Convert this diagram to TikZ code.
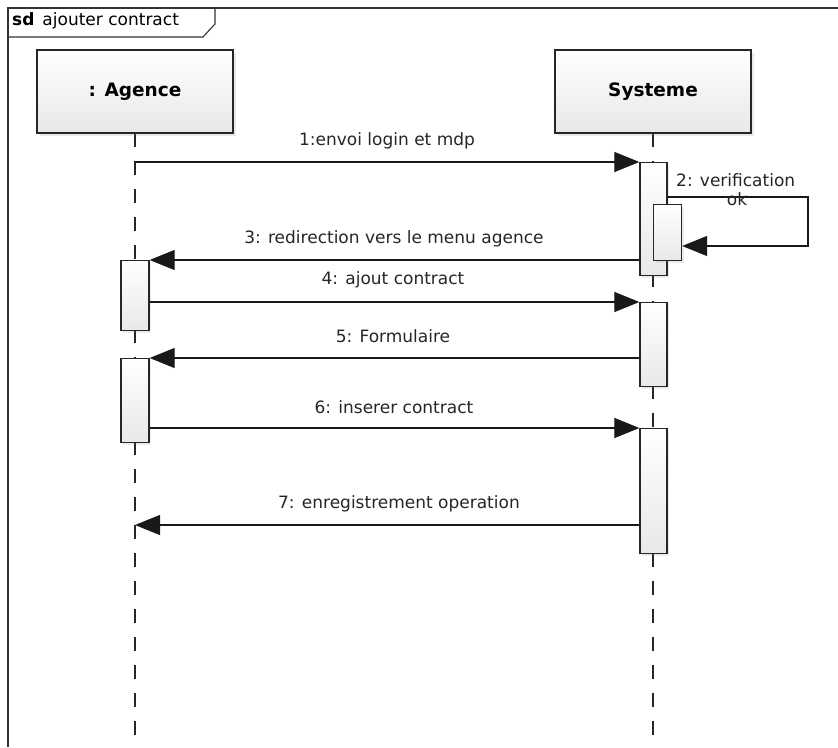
\documentclass[tikz,border=0pt]{standalone}
\usepackage{fontspec}
\setmainfont{DejaVu Sans}
\usetikzlibrary{arrows.meta,shadows}

\tikzset{
  lifebox/.style={draw=black!85, line width=1.4pt, top color=white, bottom color=black!9,
    minimum width=196pt, minimum height=83pt, inner sep=0pt,
    drop shadow={shadow xshift=2.5pt, shadow yshift=-2.5pt, opacity=0.18},
    font=\fontsize{18.5}{21}\selectfont\bfseries},
  actbar/.style={draw=black!85, line width=1.3pt, top color=white, bottom color=black!9,
    minimum width=27pt, inner sep=0pt, anchor=north,
    drop shadow={shadow xshift=2pt, shadow yshift=-2pt, opacity=0.15}},
  lifeline/.style={line width=1.1pt, black!85, dash pattern=on 14pt off 14pt},
  msg/.style={line width=1.2pt, black!90, -{Triangle[length=25pt,width=20pt]}},
  lbl/.style={font=\fontsize{17}{19}\selectfont, text=black!85, inner sep=0pt},
  frameline/.style={line width=1.4pt, black!80},
}

\begin{document}
\begin{tikzpicture}[x=1pt,y=-1pt]
  \useasboundingbox (0,0) rectangle (838,747);
  \fill[white] (0,0) rectangle (838,747);

  % interaction frame and its tab
  \draw[frameline] (8,747) -- (8,8) -- (838,8);
  \draw[line width=1.1pt, black!80] (8,37) -- (203,37) -- (215,24) -- (215,8);
  \node[anchor=west, inner sep=0pt, font=\fontsize{17}{19}\selectfont] (title) at (12,21)
    {\textbf{sd}\hspace{8pt}ajouter contract};

  % lifelines
  \coordinate (agTop) at (135,133);
  \coordinate (syTop) at (653,133);
  \coordinate (agBot) at (135,747);
  \coordinate (syBot) at (653,747);
  \draw[lifeline] (agTop) -- (agBot);
  \draw[lifeline] (syTop) -- (syBot);

  % participants
  \node[lifebox] (agence) at (135,91.5) {: Agence};
  \node[lifebox] (systeme) at (653,91.5) {Systeme};

  % activation bars
  \node[actbar, minimum height=113pt] (s1) at (653.5,162) {};
  \node[actbar, minimum height=56pt, minimum width=28pt] (s1b) at (667.5,204) {};
  \node[actbar, minimum height=84pt] (s2) at (653.5,302) {};
  \node[actbar, minimum height=125pt] (s3) at (653.5,428) {};
  \node[actbar, minimum height=70pt, minimum width=28pt] (a1) at (135,260) {};
  \node[actbar, minimum height=84pt, minimum width=28pt] (a2) at (135,358) {};

  % messages
  \coordinate (m1start) at (135,162);
  \coordinate (m7end) at (135,525);
  \draw[msg] (m1start) -- (s1.north west);
  \node[lbl] (t1) at (387,141) {1:envoi login et mdp};

  \draw[msg] (s1.east |- 0,197) -- (808,197) |- (s1b.east |- 0,246);
  \node[lbl, anchor=west] (t2) at (676,180) {2: verification};
  \node[lbl] (t2b) at (737,199) {ok};

  \draw[msg] (s1.west |- a1.north east) -- (a1.north east);
  \node[lbl] (t3) at (394,239) {3: redirection vers le menu agence};

  \draw[msg] (a1.east |- s2.north west) -- (s2.north west);
  \node[lbl] (t4) at (393,280) {4: ajout contract};

  \draw[msg] (s2.west |- a2.north east) -- (a2.north east);
  \node[lbl] (t5) at (393,336) {5: Formulaire};

  \draw[msg] (a2.east |- s3.north west) -- (s3.north west);
  \node[lbl] (t6) at (394,407) {6: inserer contract};

  \draw[msg] (s3.west |- m7end) -- (m7end);
  \node[lbl] (t7) at (399,504) {7: enregistrement operation};
\end{tikzpicture}
\end{document}
